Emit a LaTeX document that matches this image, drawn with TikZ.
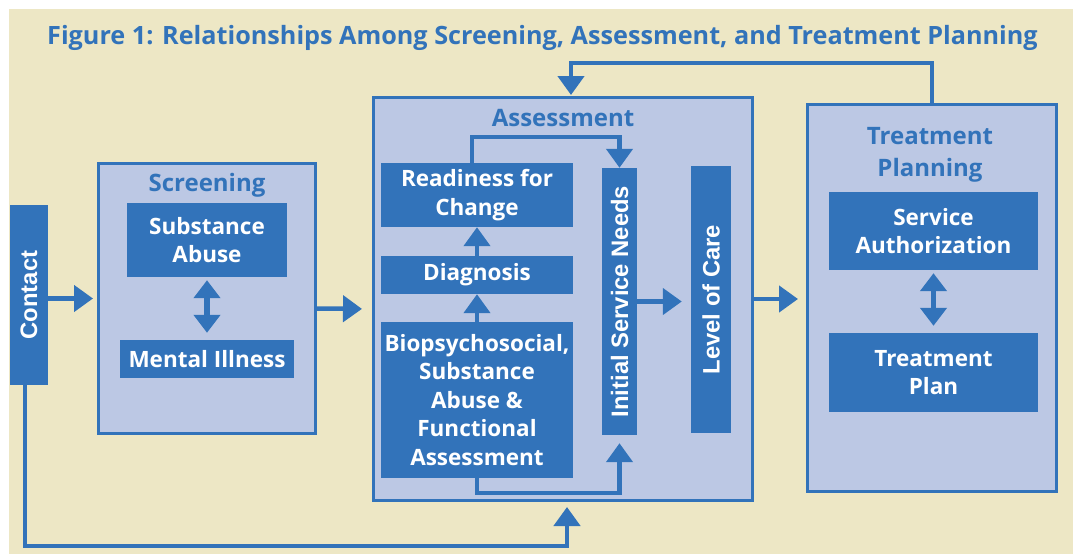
\documentclass[tikz,border=0pt]{standalone}
\usepackage{fontspec}
\setmainfont{Open Sans}
\newfontfamily\cdside{Liberation Sans}
\usepackage{graphicx}
\usetikzlibrary{arrows.meta,positioning,calc}

\definecolor{cdblue}{RGB}{50,115,186}
\definecolor{cdpale}{RGB}{188,200,228}
\definecolor{cdsand}{RGB}{237,231,197}
\newcommand{\cdfont}{\fontsize{22.5pt}{28.5pt}\selectfont\bfseries}
\newcommand{\cdhead}{\fontsize{24pt}{32pt}\selectfont\bfseries}
% upright labels in the tall bars
\newcommand{\cdup}[1]{\rotatebox{90}{\cdside\fontsize{23.8pt}{28pt}\selectfont\bfseries #1}}

\begin{document}
\begin{tikzpicture}[x=1pt, y=-1pt,
  box/.style={rectangle, fill=cdblue, text=white, inner sep=0pt,
    align=center, font=\cdfont},
  frame/.style={rectangle, draw=cdblue, line width=3pt, fill=cdpale,
    inner sep=0pt},
  head/.style={text=cdblue, inner sep=0pt, align=center, font=\cdhead},
  arr/.style={-{Triangle[length=19pt,width=26pt]}, draw=cdblue,
    line width=4.5pt},
  dbl/.style={{Triangle[length=18pt,width=26pt]}-{Triangle[length=18pt,width=26pt]},
    draw=cdblue, line width=5.5pt},
]
\useasboundingbox (0,0) rectangle (1073,554);
\fill[cdsand] (9,9) rectangle (1073,554);

\node[head, anchor=base, font=\fontsize{25.2pt}{30pt}\selectfont\bfseries]
  (title) at (542.5,44)
  {Figure 1: Relationships Among Screening, Assessment, and Treatment Planning};

% frames
\node[frame, minimum width=217pt, minimum height=270pt] (screen) at (207,298.5) {};
\node[frame, minimum width=379pt, minimum height=403pt] (assess) at (563,299) {};
\node[frame, minimum width=249pt, minimum height=387pt] (tp)     at (932,298) {};

\node[head, anchor=base] (screenhd) at (207,191) {Screening};
\node[head, anchor=base] (assesshd) at (563,126) {Assessment};
\node[head] (tphd) at (930,154.5) {Treatment\\Planning};

% contact and screening
\node[box, minimum width=38pt, minimum height=180pt] (contact) at (29,295)
  {\cdup{Contact}};
\node[box, minimum width=160pt, minimum height=74pt] (subab)  at (207,240)
  {Substance\\Abuse};
\node[box, minimum width=174pt, minimum height=38pt] (mental) at (207,359)
  {Mental Illness};

% assessment
\node[box, minimum width=192pt, minimum height=64pt]  (ready) at (477,195)
  {Readiness for\\Change};
\node[box, minimum width=192pt, minimum height=38pt]  (diag)  at (477,275)
  {Diagnosis};
\node[box, minimum width=192pt, minimum height=156pt] (bio)   at (477,400)
  {Biopsychosocial,\\Substance\\Abuse \&\\Functional\\Assessment};
\node[box, minimum width=35pt, minimum height=267pt]  (isn)   at (619.5,301.5)
  {\cdup{Initial Service Needs}};
\node[box, minimum width=40pt, minimum height=267pt]  (loc)   at (711,299.5)
  {\cdup{Level of Care}};

% treatment planning
\node[box, minimum width=209pt, minimum height=78pt] (auth)  at (933.5,231)
  {Service\\Authorization};
\node[box, minimum width=209pt, minimum height=79pt] (tplan) at (933.5,372.5)
  {Treatment\\Plan};

% main flow
\draw[arr, shorten >=4pt] (contact.east |- screen.west) -- (screen.west);
\draw[arr, shorten >=10pt] ($(screen.east)+(0,10)$) -- ($(assess.west)+(0,10)$);
\draw[arr, shorten >=9pt] (isn.east) -- (loc.west |- isn.east);
\draw[arr, shorten >=8pt] (assess.east) -- (tp.west |- assess.east);

\draw[dbl, shorten <=3pt, shorten >=7pt] (subab.south) -- (mental.north);
\draw[dbl, shorten <=3pt, shorten >=7pt] (auth.south) -- (tplan.north);

\draw[arr] (bio.north) -- (diag.south);
\draw[arr] (diag.north) -- (ready.south);
\draw[arr] ($(ready.north)+(-5,0)$) |- ($(isn.north)+(0,-31)$) -- (isn.north);
\draw[arr, shorten >=8pt] (bio.south) |- ($(isn.south)+(0,58)$) -- (isn.south);

% loops back
\draw[arr, shorten >=1pt] (tp.north) |- ($(assess.north)+(8,-33)$)
  -- ($(assess.north)+(8,0)$);
\draw[arr, shorten >=5pt] ($(contact.south)+(-4,0)$) |- ($(assess.south)+(4,44)$)
  -- ($(assess.south)+(4,0)$);
\end{tikzpicture}
\end{document}
